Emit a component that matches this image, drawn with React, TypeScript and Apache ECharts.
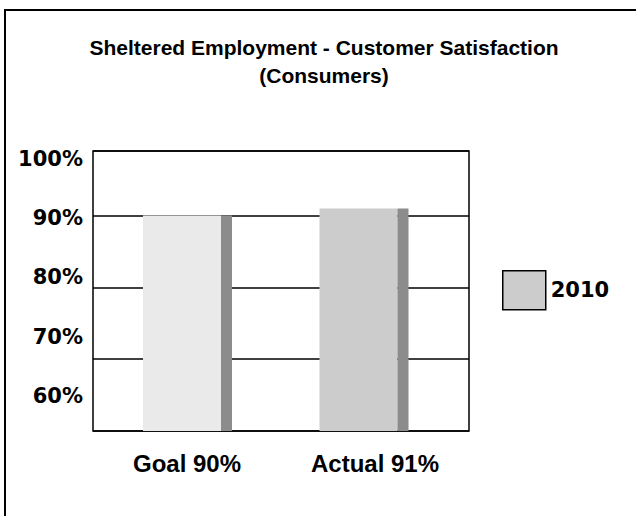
import React, { useEffect, useRef } from "react";
import * as echarts from "echarts";

const categories = ["Goal 90%", "Actual 91%"];
const values = [90, 91];
const seriesName = "2010";
const yTickLabels = [60, 70, 80, 90, 100];
const titleText = "Sheltered Employment - Customer Satisfaction\n(Consumers)";

const frontColors = ["#EAEAEA", "#CCCCCC"];
const sideColor = "#8C8C8C";

export default function App() {
  const ref = useRef<HTMLDivElement>(null);
  useEffect(() => {
    if (!ref.current) return;
    const chart = echarts.init(ref.current, null, { renderer: "svg" });
    chart.setOption({
      animation: false,
      backgroundColor: "#ffffff",
      title: {
        text: titleText,
        left: 319,
        top: 28,
        textAlign: "center",
        textStyle: {
          fontFamily: "Liberation Sans, Arial, sans-serif",
          fontWeight: "bold",
          fontSize: 21,
          lineHeight: 28,
          color: "#000",
        },
      },
      legend: {
        data: [seriesName],
        left: 497,
        top: 265,
        orient: "vertical",
        itemWidth: 43,
        itemHeight: 39,
        icon: "rect",
        itemStyle: { borderColor: "#000", borderWidth: 1.5 },
        textStyle: {
          fontFamily: "DejaVu Sans",
          fontWeight: "bold",
          fontSize: 21,
          color: "#000",
        },
      },
      graphic: [
        {
          type: "rect",
          shape: { x: 5, y: 10, width: 700, height: 600 },
          style: { fill: "none", stroke: "#000", lineWidth: 2 },
          silent: true,
        },
      ],
      grid: [
        {
          left: 93,
          top: 151,
          width: 376,
          height: 280,
          show: true,
          borderColor: "#000",
          borderWidth: 1.5,
          backgroundColor: "transparent",
        },
        { left: 99.25, top: 151, width: 353, height: 280 },
      ],
      xAxis: [
        {
          type: "category",
          gridIndex: 0,
          data: categories,
          axisLine: { show: false },
          axisTick: { show: false },
          axisLabel: {
            margin: 20,
            fontFamily: "Liberation Sans, Arial, sans-serif",
            fontWeight: "bold",
            fontSize: 24,
            color: "#000",
          },
        },
        { type: "category", gridIndex: 1, data: categories, show: false },
      ],
      yAxis: [
        {
          type: "value",
          gridIndex: 0,
          position: "left",
          min: 60,
          max: 99,
          interval: 10,
          axisLine: { show: false },
          axisTick: { show: false },
          axisLabel: { show: false },
          splitLine: { show: true, lineStyle: { color: "#000", width: 1.5 } },
        },
        {
          type: "value",
          gridIndex: 0,
          position: "left",
          min: 54.14,
          max: 101.28,
          axisLine: { show: false },
          axisTick: { show: false },
          splitLine: { show: false },
          axisLabel: {
            customValues: yTickLabels,
            formatter: "{value}%",
            margin: 10,
            fontFamily: "DejaVu Sans",
            fontWeight: "bold",
            fontSize: 21,
            color: "#000",
          },
        },
        { type: "value", gridIndex: 1, min: 60, max: 99, show: false },
      ],
      series: [
        {
          name: seriesName,
          type: "bar",
          xAxisIndex: 1,
          yAxisIndex: 2,
          barWidth: 78,
          barGap: 0,
          itemStyle: { color: frontColors[1] },
          data: values.map((v, i) => ({ value: v, itemStyle: { color: frontColors[i] } })),
        },
        {
          name: seriesName + " side",
          type: "bar",
          xAxisIndex: 1,
          yAxisIndex: 2,
          barWidth: 11,
          barGap: 0,
          itemStyle: { color: sideColor },
          data: values,
        },
      ],
    });
    return () => chart.dispose();
  }, []);
  return (
    <div
      ref={ref}
      style={{ position: "absolute", left: 0, top: 0, width: 636, height: 516 }}
    />
  );
}
